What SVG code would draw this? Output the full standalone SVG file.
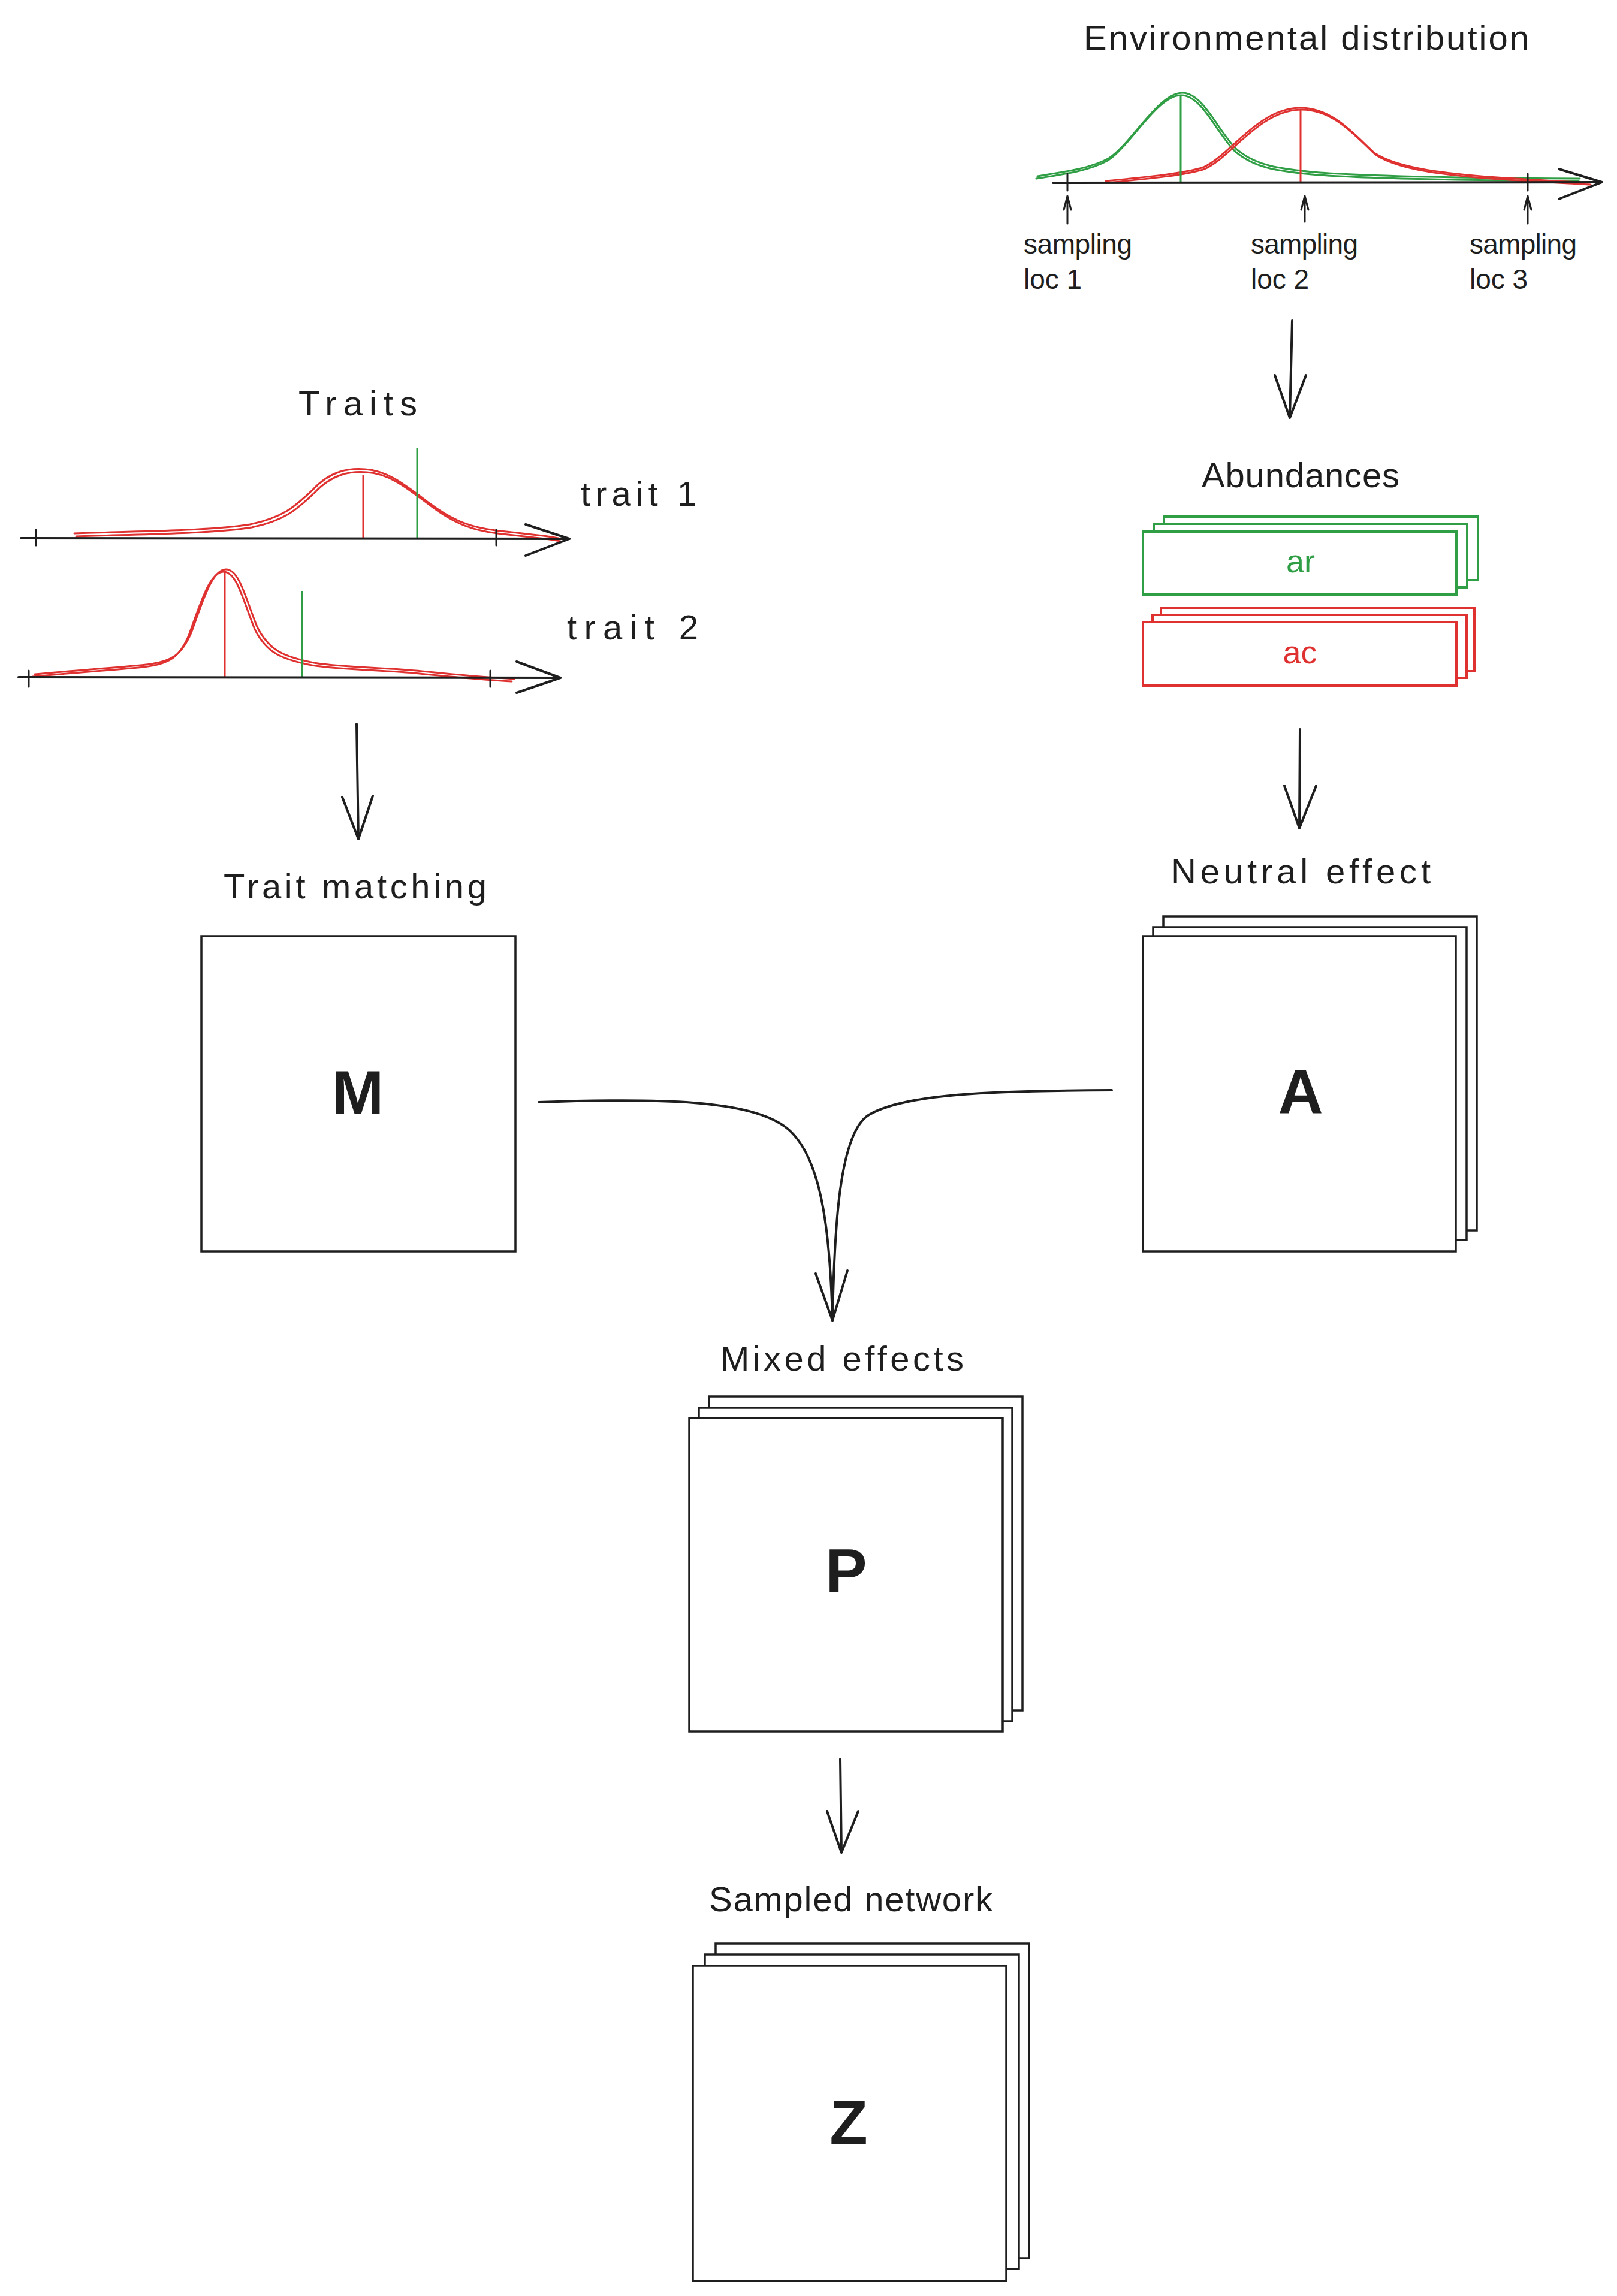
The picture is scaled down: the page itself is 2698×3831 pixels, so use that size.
<svg xmlns="http://www.w3.org/2000/svg" xmlns:xlink="http://www.w3.org/1999/xlink" width="2698" height="3831" viewBox="0 0 2698 3831">
<style>
  text { font-family: "Liberation Sans", "DejaVu Sans", sans-serif; fill: #1e1e1e; }
  .lbl { font-size: 58px; }
  .small { font-size: 46px; }
  .big { font-size: 104px; font-weight: bold; }
  .ln { fill: none; stroke: #1e1e1e; stroke-linecap: round; stroke-linejoin: round; }
  .axis { stroke-width: 4; }
  .thin { stroke-width: 3; }
  .box { fill: #ffffff; stroke: #1e1e1e; stroke-width: 3.5; }
  .gbox { fill: #ffffff; stroke: #2f9e44; stroke-width: 4; }
  .rbox { fill: #ffffff; stroke: #e03131; stroke-width: 4; }
  .gcurve { fill: none; stroke: #2f9e44; stroke-width: 3; stroke-linecap: round; }
  .rcurve { fill: none; stroke: #e03131; stroke-width: 3; stroke-linecap: round; }
  .arrow { fill: none; stroke: #1e1e1e; stroke-width: 4; stroke-linecap: round; stroke-linejoin: round; }
</style>
<rect x="0" y="0" width="2698" height="3831" fill="#ffffff"/>

<!-- Environmental distribution -->
<g id="env-distribution">
  <text class="lbl" x="1808" y="83" textLength="743">Environmental distribution</text>
  <path id="envGreen" class="gcurve" d="M1729,298 C1780,290 1820,284 1848,268 C1885,245 1930,160 1970,159 C2005,158 2030,222 2060,252 C2092,280 2130,286 2200,292 C2300,299 2450,301 2634,302"/>
  <use xlink:href="#envGreen" transform="translate(2,-4)"/>
  <path id="envRed" class="rcurve" d="M1847,305 C1920,298 1980,292 2010,282 C2055,262 2100,185 2170,183 C2225,182 2262,228 2295,258 C2335,285 2420,293 2500,299 C2560,303 2620,306 2654,308"/>
  <use xlink:href="#envRed" transform="translate(-2,-3)"/>
  <line x1="1970" y1="159" x2="1970" y2="305" stroke="#2f9e44" stroke-width="3"/>
  <line x1="2170" y1="183" x2="2170" y2="305" stroke="#e03131" stroke-width="3"/>
  <path class="ln axis" d="M1757,305 L2669,304"/>
  <path class="ln axis" d="M2601,282 L2673,304 L2601,332"/>
  <path class="ln thin" d="M1781,290 L1781,318 M2549,290 L2549,318"/>
  <path class="ln thin" d="M1781,373 L1781,328 M1775,350 L1781,327 L1787,350"/>
  <path class="ln thin" d="M2177,370 L2177,328 M2171,350 L2177,327 L2183,350"/>
  <path class="ln thin" d="M2549,373 L2549,328 M2543,350 L2549,327 L2555,350"/>
  <text class="small" x="1708" y="423" textLength="181">sampling</text>
  <text class="small" x="1708" y="482">loc 1</text>
  <text class="small" x="2087" y="423" textLength="179">sampling</text>
  <text class="small" x="2087" y="482">loc 2</text>
  <text class="small" x="2452" y="423" textLength="179">sampling</text>
  <text class="small" x="2452" y="482">loc 3</text>
</g>

<!-- Traits -->
<g id="traits">
  <text class="lbl" x="498" y="693" textLength="198">Traits</text>
  <path id="t1Red" class="rcurve" d="M127,895 C250,891 360,890 420,880 C480,868 500,845 525,822 C555,790 585,786 612,788 C650,790 680,815 720,845 C760,875 790,885 830,890 C870,895 910,898 935,903"/>
  <use xlink:href="#t1Red" transform="translate(-3,-5)"/>
  <line x1="606" y1="792" x2="606" y2="898" stroke="#e03131" stroke-width="3"/>
  <line x1="696" y1="747" x2="696" y2="898" stroke="#2f9e44" stroke-width="3"/>
  <path class="ln axis" d="M35,898 L950,899"/>
  <path class="ln axis" d="M877,875 L950,899 L877,927"/>
  <path class="ln thin" d="M60,884 L60,910 M828,884 L828,910"/>
  <text class="lbl" x="969" y="844" textLength="193">trait 1</text>

  <path id="t2Red" class="rcurve" d="M54,1129 C130,1122 190,1118 240,1113 C285,1108 300,1095 315,1060 C335,1005 350,954 373,954 C395,954 405,1000 425,1050 C445,1090 470,1100 520,1110 C570,1118 640,1118 700,1124 C760,1130 820,1135 854,1137"/>
  <use xlink:href="#t2Red" transform="translate(4,-4)"/>
  <line x1="375" y1="955" x2="375" y2="1130" stroke="#e03131" stroke-width="3"/>
  <line x1="504" y1="986" x2="504" y2="1130" stroke="#2f9e44" stroke-width="3"/>
  <path class="ln axis" d="M31,1130 L935,1131"/>
  <path class="ln axis" d="M862,1104 L935,1131 L862,1156"/>
  <path class="ln thin" d="M48,1119 L48,1146 M818,1119 L818,1146"/>
  <text class="lbl" x="946" y="1067" textLength="219">trait 2</text>
</g>

<!-- Abundances -->
<g id="abundances">
  <text class="lbl" x="2005" y="813" textLength="330">Abundances</text>
  <rect class="gbox" x="1942" y="862" width="524" height="106"/>
  <rect class="gbox" x="1925" y="874" width="523" height="106"/>
  <rect class="gbox" x="1907" y="887" width="523" height="105"/>
  <text class="small" x="2170" y="955" text-anchor="middle" style="fill:#2f9e44;font-size:54px">ar</text>
  <rect class="rbox" x="1937" y="1014" width="523" height="106"/>
  <rect class="rbox" x="1923" y="1026" width="524" height="105"/>
  <rect class="rbox" x="1907" y="1038" width="523" height="106"/>
  <text class="small" x="2169" y="1107" text-anchor="middle" style="fill:#e03131;font-size:54px">ac</text>
</g>

<!-- Trait matching -->
<g id="trait-matching">
  <text class="lbl" x="373" y="1499" textLength="439">Trait matching</text>
  <rect class="box" x="336" y="1562" width="524" height="526"/>
  <text class="big" x="597" y="1859" text-anchor="middle">M</text>
</g>

<!-- Neutral effect -->
<g id="neutral-effect">
  <text class="lbl" x="1954" y="1474" textLength="433">Neutral effect</text>
  <rect class="box" x="1941" y="1529" width="523" height="524"/>
  <rect class="box" x="1924" y="1547" width="523" height="522"/>
  <rect class="box" x="1907" y="1562" width="522" height="526"/>
  <text class="big" x="2170" y="1857" text-anchor="middle">A</text>
</g>

<!-- Mixed effects -->
<g id="mixed-effects">
  <text class="lbl" x="1202" y="2287" textLength="406">Mixed effects</text>
  <rect class="box" x="1183" y="2330" width="523" height="524"/>
  <rect class="box" x="1166" y="2349" width="523" height="523"/>
  <rect class="box" x="1150" y="2366" width="523" height="523"/>
  <text class="big" x="1412" y="2657" text-anchor="middle">P</text>
</g>

<!-- Sampled network -->
<g id="sampled-network">
  <text class="lbl" x="1183" y="3189" textLength="473">Sampled network</text>
  <rect class="box" x="1194" y="3243" width="523" height="525"/>
  <rect class="box" x="1176" y="3261" width="524" height="525"/>
  <rect class="box" x="1156" y="3280" width="523" height="526"/>
  <text class="big" x="1416" y="3577" text-anchor="middle">Z</text>
</g>

<!-- Connectors -->
<g id="connectors">
  <path class="arrow" d="M2156,535 L2152,697 M2127,626 L2152,697 L2179,626"/>
  <path class="arrow" d="M595,1208 L598,1400 M571,1330 L598,1400 L622,1328"/>
  <path class="arrow" d="M2169,1217 L2168,1382 M2143,1311 L2168,1382 L2196,1311"/>
  <path class="arrow" d="M899,1839 C1100,1832 1250,1835 1310,1880 C1370,1925 1385,2050 1389,2203"/>
  <path class="arrow" d="M1855,1819 C1650,1820 1510,1825 1450,1860 C1400,1890 1392,2050 1389,2203"/>
  <path class="arrow" d="M1361,2125 L1389,2203 L1414,2120"/>
  <path class="arrow" d="M1402,2935 L1404,3091 M1380,3022 L1404,3091 L1432,3022"/>
</g>
</svg>
